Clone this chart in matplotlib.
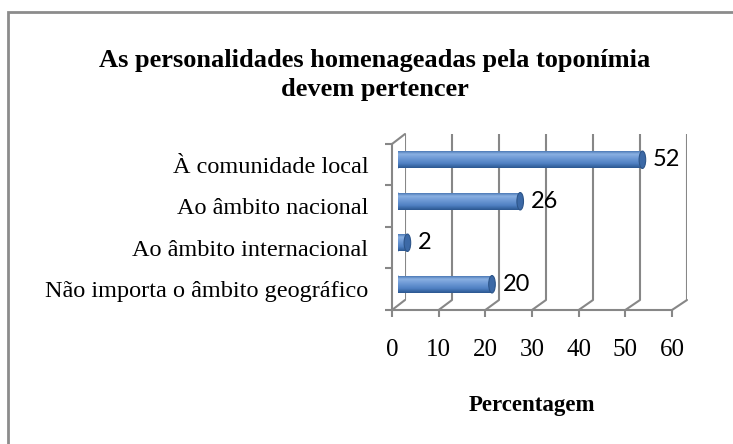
import matplotlib
matplotlib.use("Agg")
import matplotlib.pyplot as plt
import numpy as np
from matplotlib.patches import Ellipse, Rectangle, ConnectionPatch
from matplotlib.colors import LinearSegmentedColormap

categories = ["À comunidade local", "Ao âmbito nacional",
              "Ao âmbito internacional", "Não importa o âmbito geográfico"]
values = [52, 26, 2, 20]
xticks = [0, 10, 20, 30, 40, 50, 60]
title = "As personalidades homenageadas pela toponímia\ndevem pertencer"
xlabel = "Percentagem"

W, H = 733, 444
fig = plt.figure(figsize=(W / 100, H / 100), dpi=100)

def pos(left, right, top, bottom):
    return [left / W, (H - bottom) / H, (right - left) / W, (bottom - top) / H]

grid_col = "#878787"
serif = "Liberation Serif"

# back wall
ax_back = fig.add_axes(pos(405, 687, 134, 300))
ax_back.set_xlim(0, 60)
ax_back.set_ylim(3.5, -0.5)
ax_back.axis("off")
for v in xticks:
    ax_back.axvline(v, color=grid_col, lw=1.5)

# front axes (axis lines, ticks, labels)
ax = fig.add_axes(pos(392, 672, 144, 310))
ax.patch.set_alpha(0)
ax.set_xlim(0, 60)
ax.set_ylim(3.5, -0.5)
for s in ["top", "right"]:
    ax.spines[s].set_visible(False)
for s in ["left", "bottom"]:
    ax.spines[s].set_color(grid_col)
    ax.spines[s].set_linewidth(1.5)
ax.set_xticks(xticks)
ax.set_xticklabels([str(t) for t in xticks], fontfamily=serif, fontsize=18)
ax.tick_params(axis="x", direction="out", length=5, width=1.5, color=grid_col, pad=16)
ypos = np.arange(len(categories))
ax.set_yticks(ypos)
ax.set_yticklabels(categories, fontfamily=serif, fontsize=17.5)
ax.tick_params(axis="y", which="major", length=0, pad=17)
ax.set_yticks(np.arange(-0.5, len(categories)), minor=True)
ax.tick_params(axis="y", which="minor", direction="out", length=5, width=1.5, color=grid_col)

# diagonals (floor and top-left)
for v in xticks:
    fig.add_artist(ConnectionPatch(xyA=(v, 3.5), coordsA=ax.transData,
                                   xyB=(v, 3.5), coordsB=ax_back.transData,
                                   color=grid_col, lw=1.5))
fig.add_artist(ConnectionPatch(xyA=(0, -0.5), coordsA=ax.transData,
                               xyB=(0, -0.5), coordsB=ax_back.transData,
                               color=grid_col, lw=1.5))

# bars at mid depth
ax_bars = fig.add_axes(pos(398, 680, 139, 305))
ax_bars.axis("off")
ax_bars.patch.set_alpha(0)
bh = 0.42
cmap = LinearSegmentedColormap.from_list(
    "cyl", [(0.0, "#3a69a8"), (0.22, "#8ab0e2"), (0.45, "#6f9ad6"),
            (0.75, "#4f80c2"), (1.0, "#2b5790")])
grad = np.linspace(0, 1, 64).reshape(-1, 1)
bars = ax_bars.barh(ypos, values, height=bh, color="#4F81BD", zorder=2)
for b, v in zip(bars, values):
    x0, y0 = b.get_x(), b.get_y()
    w, h = b.get_width(), b.get_height()
    yc = y0 + h / 2
    left = Ellipse((x0, yc), width=1.3, height=h, facecolor="#4f80c2",
                   edgecolor="none", zorder=1)
    ax_bars.add_patch(left)
    im = ax_bars.imshow(grad, extent=[x0, x0 + w, y0 + h, y0], origin="upper",
                        aspect="auto", cmap=cmap, zorder=3)
    im.set_clip_path(b)
    cap = Ellipse((x0 + w, yc), width=1.4, height=h, facecolor="#3c69a6",
                  edgecolor="#2d5589", lw=0.8, zorder=4)
    ax_bars.add_patch(cap)
    ax_bars.annotate(str(v), xy=(x0 + w, yc), xytext=(7.5, 0),
                     textcoords="offset points", ha="left", va="center",
                     fontfamily="Lato", fontsize=17, color="black")
ax_bars.set_xlim(0, 60)
ax_bars.set_ylim(3.5, -0.5)

# texts
fig.text(375 / W, 1 - 75 / H, title, ha="center", va="center",
         fontfamily=serif, fontweight="bold", fontsize=19, linespacing=1.3)
fig.text(532 / W, 1 - 405 / H, xlabel, ha="center", va="center",
         fontfamily=serif, fontweight="bold", fontsize=16.5)

# outer frame
fig.add_artist(Rectangle((8 / W, -0.1), 1.2, (H - 12) / H + 0.1,
                         transform=fig.transFigure, fill=False,
                         edgecolor="#8c8c8c", lw=2))

fig.savefig("out.png", dpi=100)
